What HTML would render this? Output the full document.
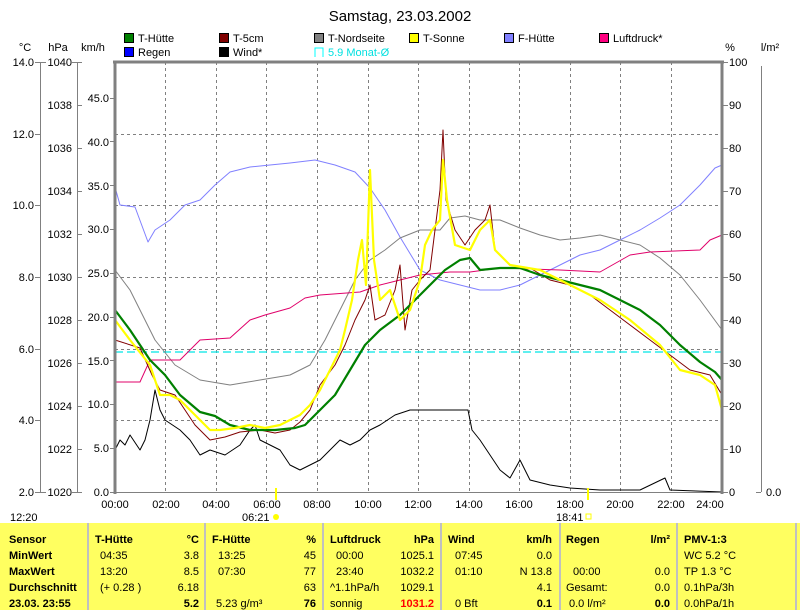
<!DOCTYPE html><html><head><meta charset="utf-8"><style>
body{margin:0;background:#fff;width:800px;height:610px;overflow:hidden;font-family:"Liberation Sans",sans-serif}
svg{position:absolute;left:0;top:0}
text{font-family:"Liberation Sans",sans-serif;font-size:11px;fill:#000}
</style></head><body>
<svg width="800" height="610" xmlns="http://www.w3.org/2000/svg">
<text x="400" y="21" text-anchor="middle" style="font-size:15px">Samstag, 23.03.2002</text>
<!-- legend -->
<g>
<rect x="124.5" y="33.5" width="9" height="9" fill="#008000" stroke="#000"/><text x="138" y="42">T-Hütte</text>
<rect x="124.5" y="47.5" width="9" height="9" fill="#0000ff" stroke="#000"/><text x="138" y="56">Regen</text>
<rect x="219.5" y="33.5" width="9" height="9" fill="#800000" stroke="#000"/><text x="233" y="42">T-5cm</text>
<rect x="219.5" y="47.5" width="9" height="9" fill="#000" stroke="#000"/><text x="233" y="56">Wind*</text>
<rect x="314.5" y="33.5" width="9" height="9" fill="#808080" stroke="#000"/><text x="328" y="42">T-Nordseite</text>
<path d="M315 57V48H323V57" fill="none" stroke="#00ffff"/><text x="328" y="56" style="fill:#00e0e0">5.9 Monat-Ø</text>
<rect x="409.5" y="33.5" width="9" height="9" fill="#ffff00" stroke="#000"/><text x="423" y="42">T-Sonne</text>
<rect x="504.5" y="33.5" width="9" height="9" fill="#8080ff" stroke="#000"/><text x="518" y="42">F-Hütte</text>
<rect x="599.5" y="33.5" width="9" height="9" fill="#ff0080" stroke="#000"/><text x="613" y="42">Luftdruck*</text>
</g>
<text x="25" y="51" text-anchor="middle">°C</text><text x="58" y="51" text-anchor="middle">hPa</text><text x="93" y="51" text-anchor="middle">km/h</text>
<text x="730" y="51" text-anchor="middle">%</text><text x="770" y="51" text-anchor="middle">l/m²</text>
<!-- axes left -->
<g stroke="#808080" fill="none">
<line x1="40.5" y1="62" x2="40.5" y2="492"/><line x1="77.5" y1="62" x2="77.5" y2="492"/>
<line x1="761.5" y1="66" x2="761.5" y2="492"/>
</g>
<g stroke="#808080">
<line x1="35" y1="62.5" x2="46" y2="62.5"/><line x1="35" y1="134.5" x2="40" y2="134.5"/><line x1="35" y1="205.5" x2="40" y2="205.5"/><line x1="35" y1="277.5" x2="40" y2="277.5"/><line x1="35" y1="349.5" x2="40" y2="349.5"/><line x1="35" y1="420.5" x2="40" y2="420.5"/><line x1="35" y1="492.5" x2="46" y2="492.5"/>
<line x1="72" y1="62.5" x2="82" y2="62.5"/>
</g>
<g text-anchor="end">
<text x="34" y="66">14.0</text><text x="34" y="138">12.0</text><text x="34" y="209">10.0</text><text x="34" y="281">8.0</text><text x="34" y="353">6.0</text><text x="34" y="424">4.0</text><text x="34" y="496">2.0</text>
</g>
<g text-anchor="end" id="hpa"></g>
<g id="static"></g>
<!-- grid -->
<g stroke="#808080" stroke-dasharray="3,3">
<line x1="115" y1="134.5" x2="722" y2="134.5"/><line x1="115" y1="205.5" x2="722" y2="205.5"/><line x1="115" y1="277.5" x2="722" y2="277.5"/><line x1="115" y1="349.5" x2="722" y2="349.5"/><line x1="115" y1="420.5" x2="722" y2="420.5"/>
<line x1="165.5" y1="62" x2="165.5" y2="492"/><line x1="216.5" y1="62" x2="216.5" y2="492"/><line x1="266.5" y1="62" x2="266.5" y2="492"/><line x1="317.5" y1="62" x2="317.5" y2="492"/><line x1="368.5" y1="62" x2="368.5" y2="492"/><line x1="418.5" y1="62" x2="418.5" y2="492"/><line x1="469.5" y1="62" x2="469.5" y2="492"/><line x1="519.5" y1="62" x2="519.5" y2="492"/><line x1="570.5" y1="62" x2="570.5" y2="492"/><line x1="620.5" y1="62" x2="620.5" y2="492"/><line x1="671.5" y1="62" x2="671.5" y2="492"/>
</g>
<line x1="115" y1="352" x2="722" y2="352" stroke="#00e5e5" stroke-dasharray="8,4" stroke-width="1.3"/>
<g fill="none" stroke-linejoin="round">
<polyline stroke="#8080ff" points="115,187 120,205 135,207 148,242 155,230 170,220 185,205 200,200 215,185 230,172 250,167 270,165 290,163 315,160 335,165 355,172 370,188 385,210 400,237 420,270 440,280 460,285 480,290 500,290 520,285 540,275 560,265 580,255 600,250 620,240 640,230 660,218 680,205 700,185 715,168 722,165"/>
<polyline stroke="#808080" points="115,270 130,290 140,310 155,340 175,365 200,380 230,385 260,380 290,375 310,365 325,340 340,310 355,280 370,260 385,250 400,238 420,230 440,230 450,218 465,216 480,220 500,220 520,228 540,235 560,240 580,238 600,235 620,240 640,245 660,258 680,275 700,300 722,330"/>
<polyline stroke="#e0006a" points="115,382 140,382 150,360 180,360 200,340 230,338 250,320 265,315 290,308 305,298 320,295 360,292 380,285 400,280 420,275 450,272 470,272 500,268 560,270 600,272 630,255 650,252 700,250 710,240 722,235"/>
<polyline stroke="#000" points="115,450 120,440 125,445 130,435 140,450 145,440 150,420 155,390 160,410 165,420 180,430 190,440 200,455 210,450 225,455 240,445 250,430 255,425 260,440 270,445 280,450 290,465 300,470 310,465 320,460 330,450 340,440 350,445 360,440 370,430 380,425 395,415 410,410 430,410 468,410 472,430 480,440 490,455 500,470 510,478 520,460 530,480 550,485 570,488 600,490 640,490 665,478 670,490 722,492"/>
<polyline stroke="#800000" points="115,340 140,348 152,375 160,390 175,395 185,410 195,425 210,440 225,437 240,432 260,430 275,433 290,430 300,422 310,410 320,385 335,365 345,345 355,320 365,300 370,285 375,320 385,315 395,290 400,265 405,330 412,290 420,280 430,270 440,190 443,130 446,200 455,230 465,245 475,230 485,220 490,205 495,250 510,265 530,268 550,280 570,285 590,295 610,310 630,325 650,340 670,355 690,370 710,375 722,395"/>
<polyline stroke="#008000" stroke-width="2.2" points="115,310 130,330 150,360 165,375 180,395 200,412 215,416 230,425 250,430 275,430 295,428 305,425 320,410 335,395 350,370 365,345 380,330 400,315 420,295 430,285 445,270 460,260 470,258 480,270 500,268 520,268 540,275 560,280 580,285 600,290 620,300 640,310 660,325 680,345 700,362 715,372 722,380"/>
<polyline stroke="#ffff00" stroke-width="2.2" points="115,320 130,340 150,365 160,395 170,395 180,400 190,410 200,420 210,430 220,430 235,428 250,425 265,428 280,425 300,415 310,405 320,390 330,370 340,350 345,330 352,300 358,260 362,240 366,285 370,170 374,260 380,300 390,290 400,320 410,310 420,280 425,245 432,230 440,220 443,160 447,200 455,245 470,250 480,230 490,220 495,250 510,265 540,270 570,285 600,300 630,320 660,345 680,370 700,375 715,385 722,410"/>
</g>
<!-- plot frame -->
<g stroke="#808080" stroke-width="3" fill="none">
<line x1="115" y1="62" x2="115" y2="494"/><line x1="722" y1="62" x2="722" y2="494"/><line x1="113" y1="62" x2="724" y2="62"/>
</g>
<line x1="115" y1="492.5" x2="722" y2="492.5" stroke="#808080"/>
<line x1="276" y1="488" x2="276" y2="500" stroke="#ffff00" stroke-width="2"/>
<line x1="588" y1="488" x2="588" y2="500" stroke="#ffff00" stroke-width="2"/>
<circle cx="276" cy="517" r="3" fill="#ffff00"/><rect x="586" y="514" width="5" height="5" fill="none" stroke="#ffff00"/>
<text x="10" y="521">12:20</text><text x="242" y="521">06:21</text><text x="556" y="521">18:41</text>
<g id="xl" text-anchor="middle"></g>
<g id="yy"></g>
</svg>
<div style="position:absolute;left:0;top:523px;width:800px;height:87px;background:#ffff60"></div>
<svg width="800" height="610" xmlns="http://www.w3.org/2000/svg" style="font-size:11px">
<g stroke="#c0c0c0" stroke-width="2">
<line x1="88" y1="523" x2="88" y2="610"/><line x1="205" y1="523" x2="205" y2="610"/><line x1="323" y1="523" x2="323" y2="610"/><line x1="441" y1="523" x2="441" y2="610"/><line x1="560" y1="523" x2="560" y2="610"/><line x1="677" y1="523" x2="677" y2="610"/><line x1="796" y1="523" x2="796" y2="610"/>
</g>
<g style="font-weight:bold">
<text x="9" y="543">Sensor</text><text x="9" y="559">MinWert</text><text x="9" y="575">MaxWert</text><text x="9" y="591">Durchschnitt</text><text x="9" y="607">23.03. 23:55</text>
<text x="95" y="543">T-Hütte</text><text x="199" y="543" text-anchor="end">°C</text>
<text x="212" y="543">F-Hütte</text><text x="316" y="543" text-anchor="end">%</text>
<text x="330" y="543">Luftdruck</text><text x="434" y="543" text-anchor="end">hPa</text>
<text x="448" y="543">Wind</text><text x="552" y="543" text-anchor="end">km/h</text>
<text x="566" y="543">Regen</text><text x="670" y="543" text-anchor="end">l/m²</text>
<text x="684" y="543">PMV-1:3</text>
<text x="199" y="607" text-anchor="end">5.2</text><text x="316" y="607" text-anchor="end">76</text><text x="434" y="607" text-anchor="end" style="fill:#ff0000">1031.2</text><text x="552" y="607" text-anchor="end">0.1</text><text x="670" y="607" text-anchor="end">0.0</text>
</g>
<g>
<text x="100" y="559">04:35</text><text x="199" y="559" text-anchor="end">3.8</text>
<text x="100" y="575">13:20</text><text x="199" y="575" text-anchor="end">8.5</text>
<text x="100" y="591">(+ 0.28 )</text><text x="199" y="591" text-anchor="end">6.18</text>
<text x="218" y="559">13:25</text><text x="316" y="559" text-anchor="end">45</text>
<text x="218" y="575">07:30</text><text x="316" y="575" text-anchor="end">77</text>
<text x="316" y="591" text-anchor="end">63</text><text x="216" y="607">5.23 g/m³</text>
<text x="336" y="559">00:00</text><text x="434" y="559" text-anchor="end">1025.1</text>
<text x="336" y="575">23:40</text><text x="434" y="575" text-anchor="end">1032.2</text>
<text x="330" y="591">^1.1hPa/h</text><text x="434" y="591" text-anchor="end">1029.1</text>
<text x="330" y="607">sonnig</text>
<text x="455" y="559">07:45</text><text x="552" y="559" text-anchor="end">0.0</text>
<text x="455" y="575">01:10</text><text x="552" y="575" text-anchor="end">N 13.8</text>
<text x="552" y="591" text-anchor="end">4.1</text><text x="455" y="607">0 Bft</text>
<text x="573" y="575">00:00</text><text x="670" y="575" text-anchor="end">0.0</text>
<text x="566" y="591">Gesamt:</text><text x="670" y="591" text-anchor="end">0.0</text>
<text x="569" y="607">0.0 l/m²</text>
<text x="684" y="559">WC 5.2 °C</text><text x="684" y="575">TP 1.3 °C</text><text x="684" y="591">0.1hPa/3h</text><text x="684" y="607">0.0hPa/1h</text>
</g>
<!-- hPa labels -->
<g text-anchor="end">
<text x="72" y="66">1040</text><text x="72" y="109">1038</text><text x="72" y="152">1036</text><text x="72" y="195">1034</text><text x="72" y="238">1032</text><text x="72" y="281">1030</text><text x="72" y="324">1028</text><text x="72" y="367">1026</text><text x="72" y="410">1024</text><text x="72" y="453">1022</text><text x="72" y="496">1020</text>
<text x="109" y="102">45.0</text><text x="109" y="146">40.0</text><text x="109" y="190">35.0</text><text x="109" y="233">30.0</text><text x="109" y="277">25.0</text><text x="109" y="321">20.0</text><text x="109" y="365">15.0</text><text x="109" y="408">10.0</text><text x="109" y="452">5.0</text><text x="109" y="496">0.0</text>
</g>
<g stroke="#808080">
<line x1="77" y1="105.5" x2="82" y2="105.5"/><line x1="77" y1="148.5" x2="82" y2="148.5"/><line x1="77" y1="191.5" x2="82" y2="191.5"/><line x1="77" y1="234.5" x2="82" y2="234.5"/><line x1="77" y1="277.5" x2="82" y2="277.5"/><line x1="77" y1="320.5" x2="82" y2="320.5"/><line x1="77" y1="363.5" x2="82" y2="363.5"/><line x1="77" y1="406.5" x2="82" y2="406.5"/><line x1="77" y1="449.5" x2="82" y2="449.5"/><line x1="72" y1="492.5" x2="82" y2="492.5"/>
<line x1="110" y1="98.5" x2="115" y2="98.5"/><line x1="110" y1="141.5" x2="115" y2="141.5"/><line x1="110" y1="185.5" x2="115" y2="185.5"/><line x1="110" y1="229.5" x2="115" y2="229.5"/><line x1="110" y1="273.5" x2="115" y2="273.5"/><line x1="110" y1="317.5" x2="115" y2="317.5"/><line x1="110" y1="360.5" x2="115" y2="360.5"/><line x1="110" y1="404.5" x2="115" y2="404.5"/><line x1="110" y1="448.5" x2="115" y2="448.5"/><line x1="110" y1="492.5" x2="115" y2="492.5"/>
<line x1="723" y1="62.5" x2="728" y2="62.5"/><line x1="723" y1="105.5" x2="728" y2="105.5"/><line x1="723" y1="148.5" x2="728" y2="148.5"/><line x1="723" y1="191.5" x2="728" y2="191.5"/><line x1="723" y1="234.5" x2="728" y2="234.5"/><line x1="723" y1="277.5" x2="728" y2="277.5"/><line x1="723" y1="320.5" x2="728" y2="320.5"/><line x1="723" y1="363.5" x2="728" y2="363.5"/><line x1="723" y1="406.5" x2="728" y2="406.5"/><line x1="723" y1="449.5" x2="728" y2="449.5"/><line x1="723" y1="492.5" x2="728" y2="492.5"/>
<line x1="756" y1="492.5" x2="761" y2="492.5"/>
</g>
<g>
<text x="729" y="66">100</text><text x="729" y="109">90</text><text x="729" y="152">80</text><text x="729" y="195">70</text><text x="729" y="238">60</text><text x="729" y="281">50</text><text x="729" y="324">40</text><text x="729" y="367">30</text><text x="729" y="410">20</text><text x="729" y="453">10</text><text x="729" y="496">0</text>
<text x="766" y="496">0.0</text>
</g>
<g text-anchor="middle">
<text x="115" y="508">00:00</text><text x="166" y="508">02:00</text><text x="216" y="508">04:00</text><text x="267" y="508">06:00</text><text x="317" y="508">08:00</text><text x="368" y="508">10:00</text><text x="418" y="508">12:00</text><text x="469" y="508">14:00</text><text x="519" y="508">16:00</text><text x="570" y="508">18:00</text><text x="620" y="508">20:00</text><text x="671" y="508">22:00</text><text x="710" y="508">24:00</text>
</g>
</svg>
</body></html>
